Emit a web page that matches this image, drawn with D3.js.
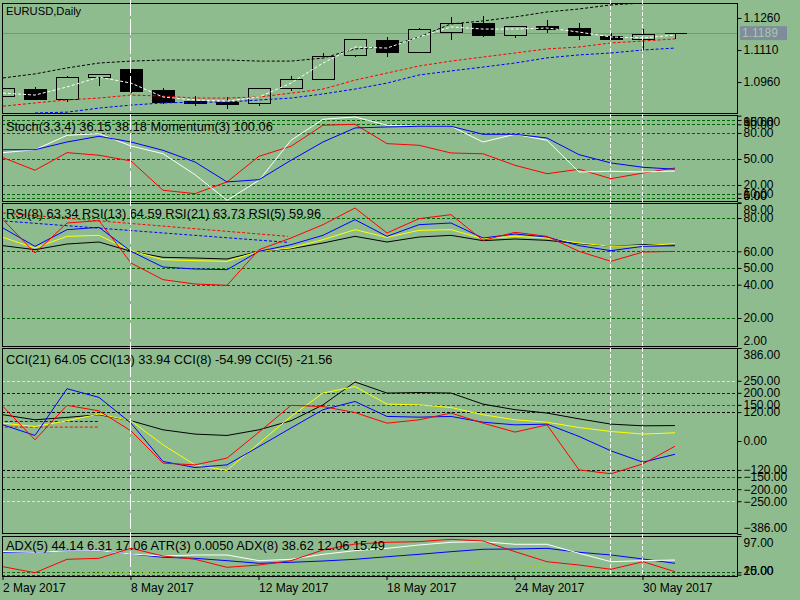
<!DOCTYPE html>
<html>
<head>
<meta charset="utf-8">
<script src="https://cdn.jsdelivr.net/npm/d3@7"></script>
<style>
  body { margin: 0; background: #8fbc8f; }
  svg { display: block; font-family: "Liberation Sans", Arial, sans-serif; font-size: 12px; }
</style>
</head>
<body>
<svg id="chart" width="800" height="600"></svg>
<script>
// EURUSD daily with four indicator sub-windows (MT4 style)

// ── Data ────────────────────────────────────────────────────────────────
var dates = ['2 May', '3 May', '4 May', '5 May', '8 May', '9 May', '10 May', '11 May', '12 May',
  '15 May', '16 May', '17 May', '18 May', '19 May', '22 May', '23 May', '24 May', '25 May',
  '26 May', '29 May', '30 May', '31 May'];

var open  = [1.0894, 1.0927, 1.0880, 1.0983, 1.1021, 1.0922, 1.0871, 1.0866, 1.0862, 1.0932, 1.0974,
  1.1087, 1.1157, 1.1101, 1.1194, 1.1237, 1.1180, 1.1222, 1.1213, 1.1176, 1.1162, 1.1189];
var high  = [1.0932, 1.0937, 1.0988, 1.0997, 1.1021, 1.0932, 1.0894, 1.0890, 1.0932, 1.0988, 1.1096,
  1.1162, 1.1171, 1.1213, 1.1265, 1.1269, 1.1222, 1.1251, 1.1237, 1.1190, 1.1208, 1.1189];
var low   = [1.0894, 1.0876, 1.0866, 1.0941, 1.0908, 1.0857, 1.0847, 1.0833, 1.0847, 1.0918, 1.0974,
  1.1077, 1.1077, 1.1096, 1.1157, 1.1171, 1.1166, 1.1190, 1.1157, 1.1162, 1.1110, 1.1162];
var close = [1.0932, 1.0880, 1.0983, 1.0997, 1.0918, 1.0866, 1.0862, 1.0857, 1.0932, 1.0974, 1.1082,
  1.1162, 1.1101, 1.1208, 1.1237, 1.1180, 1.1222, 1.1208, 1.1180, 1.1162, 1.1185, 1.1189];
var bid = 1.1189;

// moving averages on the price window
var maWhite = [1.0908, 1.0899, 1.0937, 1.0983, 1.0955, 1.0890, 1.0876, 1.0871, 1.0890, 1.0955, 1.1049,
  1.1124, 1.1119, 1.1171, 1.1218, 1.1208, 1.1208, 1.1213, 1.1194, 1.1171, 1.1166, 1.1180];
var maBlack = [1.0979, 1.0998, 1.1026, 1.1049, 1.1058, 1.1063, 1.1063, 1.1063, 1.1058, 1.1058, 1.1072,
  1.1115, 1.1124, 1.1171, 1.1232, 1.1246, 1.1265, 1.1288, 1.1302, 1.1321, 1.1330, null];
var maRed   = [1.0847, 1.0862, 1.0876, 1.0885, 1.0899, 1.0894, 1.0885, 1.0885, 1.0890, 1.0908, 1.0927,
  1.0969, 1.1002, 1.1035, 1.1058, 1.1077, 1.1096, 1.1115, 1.1124, 1.1143, 1.1152, 1.1162];
var maBlue  = [null, 1.0815, 1.0819, 1.0838, 1.0852, 1.0862, 1.0866, 1.0866, 1.0876, 1.0885, 1.0904,
  1.0927, 1.0955, 1.0993, 1.1012, 1.1030, 1.1049, 1.1073, 1.1087, 1.1096, 1.1110, 1.1119];

// Stochastic + Momentum
var stochMain   = [57.3, 60.7, 77.3, 79.2, 65, 56.1, 31.9, 2.3, 25.4, 71.6, 95.8, 98.5, 88.9, 87.7,
  87.7, 69.6, 78.5, 71.6, 35, 35.8, 35, 36.15];
var stochSignal = [60.7, 60.7, 69.6, 76.2, 69.6, 60.0, 46.5, 23.5, 26.1, 48.5, 69.6, 85.8, 86.9, 87.7,
  87.7, 78.5, 78.5, 74.2, 55, 45.4, 40.4, 38.18];
var momentum    = [51.5, 37, 57.3, 54.3, 47.7, 13.9, 10, 23.5, 53.1, 64.7, 88.9, 90, 67.7, 65.8,
  56.9, 56, 42.7, 33, 38.1, 27.3, 33.8, 39.6];

// RSI
var rsi5  = [79, 59, 77, 78.4, 53, 43, 40.4, 39.6, 61, 68, 76, 86, 71, 79.6, 82, 66.6, 71.4, 69, 60, 54, 59.6, 59.96];
var rsi8  = [74, 63, 73, 74.4, 60, 50.6, 49.4, 49, 60, 64, 69.6, 79, 69, 76, 77, 68, 70.4, 68.6, 63.4, 60.4, 63, 63.34];
var rsi13 = [68.4, 62, 69, 69.6, 60.4, 55, 54.4, 54, 60, 62, 67, 73, 68.4, 72.6, 73, 67.6, 69, 68, 65, 63, 63.4, 64.59];
var rsi21 = [63.4, 61, 64.4, 65.6, 60, 56.4, 56, 55.4, 60, 61.6, 65, 69, 65.6, 68.6, 69.6, 66.4, 67.4, 66.6, 64.6, 63, 64, 63.73];
// dotted trend lines in the RSI window: [bar index, value]
var rsiTrendRed  = [[0, 83], [8.9, 69]];
var rsiTrendBlue = [[-0.1, 78.4], [8.9, 65.4]];

// CCI
var cci21 = [109, 88, 98, 109, 84, 46.5, 28.6, 23, 46.5, 84, 150, 245, 199, 201, 199, 153, 130, 116, 92, 70, 63, 64.05];
var cci13 = [74, 60, 84, 112, 84, -16, -99, -122, -9, 102, 199, 226, 153, 150, 139, 109, 88, 78, 56, 39.5, 28.6, 33.94];
var cci8  = [67, 23, 217, 181, 74, -85, -110, -99, -23, 54, 130, 164, 102, 99, 102, 78, 67, 70, 19, -41, -88, -54.99];
var cci5  = [143, 5, 148, 125, 42, -92, -99, -71, 37, 148, 143, 118, 74, 88, 116, 74, 37, 67, -120, -136, -95, -21.56];
var cciMarkBlue = [[-0.1, 81], [3, 81]];
var cciMarkRed  = [[-0.1, 57.7], [3, 57.7]];

// ADX + ATR
var adxRed   = [31.8, 19, 47.5, 49.6, 71, 54.5, 47.5, 30.5, 35.4, 44.6, 67.3, 80, 83.6, 85, 90, 86.4, 63.7, 42.4, 35.4, 26.3, 42.4, 21.2];
var adxWhite = [64, 62.4, 65.2, 65.9, 58.8, 54.5, 56.7, 56.7, 44.6, 47.5, 58.1, 65.9, 70.8, 77.9, 83.6, 85, 79.4, 79.4, 60.3, 42.4, 44.6, 46];
var adxBlue  = [62.4, 62.4, 65.2, 65.9, 58.8, 51.8, 49.6, 44.6, 39, 41.2, 43.9, 47.5, 53, 58.1, 63.7, 68.8, 69.4, 70.8, 62.4, 56.7, 48.2, 39];
var atr      = [18, 17.5, 18, 19, 20, 19, 18.5, 18, 19.5, 30.5, 39, 49.6, 54.5, 42.4, 43.9, 40.3, 33.3, 31.8, 26.3, 20, null, null];

// axis ticks / levels
var priceTicks = [1.1260, 1.1110, 1.0960];
var stochTicks = [100, 95, 90, 80, 50, 20, 10, 5, 0];
var stochLevels = [95, 90, 80, 50, 20, 10, 5];
var rsiTicks = [89, 80, 60, 50, 40, 20, 2];
var rsiLevels = [80, 60, 50, 40, 20];
var cciTicks = [386, 250, 200, 150, 120, 0, -120, -150, -200, -250, -386];
var cciLevels = [250, 200, 150, 120, -120, -150, -200, -250];
var cciLevelColors = ['#ffff00', '#0000ff', '#ff0000', '#000000', '#000000', '#ff0000', '#0000ff', '#ffff00'];
var adxTicks = [97, 20, 15];
var adxLevels = [20, 15];
var dateTicks = [0, 4, 8, 12, 16, 20];
var markerBars = [4, 19, 20];

// ── Layout ──────────────────────────────────────────────────────────────
var BG = '#8fbc8f';
var xLeft = 2, xRight = 737;
var svg = d3.select('#chart');
svg.append('rect').attr('width', 800).attr('height', 600).attr('fill', BG);

var x = d3.scaleLinear().domain([0, dates.length - 1]).range([3, 675]);

function makePanel(name, top, bottom, domain, range) {
  var g = svg.append('g').attr('class', 'panel ' + name);
  svg.append('clipPath').attr('id', 'clip-' + name).append('rect')
    .attr('x', xLeft + 1).attr('y', top + 1)
    .attr('width', xRight - xLeft - 1).attr('height', bottom - top - 1);
  var inner = g.append('g').attr('clip-path', 'url(#clip-' + name + ')');
  return { name: name, g: g, inner: inner, top: top, bottom: bottom,
           y: d3.scaleLinear().domain(domain).range(range) };
}

function finishPanel(p) {
  p.g.append('rect')
    .attr('x', xLeft + 0.5).attr('y', p.top + 0.5)
    .attr('width', xRight - xLeft).attr('height', p.bottom - p.top)
    .attr('fill', 'none').attr('stroke', '#000');
}

function rightAxis(p, values, fmt) {
  var ax = p.g.append('g')
    .attr('transform', 'translate(' + (xRight + 0.5) + ',0)')
    .call(d3.axisRight(p.y).tickValues(values).tickFormat(fmt).tickSize(4).tickPadding(2))
    .attr('font-family', null).attr('font-size', 12);
  ax.select('.domain').remove();
  ax.selectAll('line').attr('stroke', '#000');
  ax.selectAll('text').attr('fill', '#000')
    .attr('transform', function(d) {
      var yy = p.y(d);
      var cy = Math.max(p.top + 7, Math.min(p.bottom - 5, yy));
      return 'translate(0,' + (cy - yy) + ')';
    });
}

function levelLines(p, values, colors) {
  p.inner.selectAll('line.level').data(values).join('line')
    .attr('class', 'level')
    .attr('x1', xLeft).attr('x2', xRight)
    .attr('y1', d => Math.round(p.y(d)) + 0.5).attr('y2', d => Math.round(p.y(d)) + 0.5)
    .attr('stroke', (d, i) => colors ? colors[i] : '#006400')
    .attr('stroke-dasharray', '3,2');
}

function series(p, values, color, dash) {
  var line = d3.line()
    .defined(d => d != null)
    .x((d, i) => x(i))
    .y(d => p.y(d));
  p.inner.append('path').datum(values)
    .attr('d', line)
    .attr('fill', 'none').attr('stroke', color).attr('stroke-width', 1)
    .attr('stroke-dasharray', dash || null);
}

function segment(p, pts, color) {
  p.inner.append('path').datum(pts)
    .attr('d', d3.line().x(d => x(d[0])).y(d => p.y(d[1])))
    .attr('fill', 'none').attr('stroke', color).attr('stroke-dasharray', '3,2');
}

function title(p, txt, baseline, size) {
  p.g.append('text').attr('x', 6).attr('y', baseline)
    .attr('font-size', size || 12.8).attr('fill', '#000').text(txt);
}

// ── Price window ───────────────────────────────────────────────────────
var price = makePanel('price', 3, 113, [1.0815, 1.1330], [113, 3]);

// bid line
price.inner.append('line')
  .attr('x1', xLeft).attr('x2', xRight)
  .attr('y1', Math.round(price.y(bid)) + 0.5).attr('y2', Math.round(price.y(bid)) + 0.5)
  .attr('stroke', '#7f8c9c');

var bars = price.inner.selectAll('g.bar').data(d3.range(dates.length)).join('g').attr('class', 'bar')
  .attr('shape-rendering', 'crispEdges');
bars.append('line')
  .attr('x1', i => Math.round(x(i)) + 0.5).attr('x2', i => Math.round(x(i)) + 0.5)
  .attr('y1', i => price.y(high[i])).attr('y2', i => price.y(low[i]))
  .attr('stroke', '#000');
bars.append('path')
  .attr('d', function(i) {
    var x0 = Math.round(x(i)) - 11 + 0.5, x1 = x0 + 22;
    var y0 = Math.round(price.y(Math.max(open[i], close[i]))) + 0.5;
    var y1 = Math.round(price.y(Math.min(open[i], close[i]))) + 0.5;
    return 'M' + x0 + ',' + y0 + 'H' + x1 + 'V' + y1 + 'H' + x0 + 'Z';
  })
  .attr('fill', i => close[i] < open[i] ? '#000' : BG)
  .attr('stroke', '#000');

series(price, maBlack, '#000', '3,2');
series(price, maRed, '#ff0000', '3,2');
series(price, maBlue, '#0000ff', '3,2');
series(price, maWhite, '#ffffff', '3,2');

title(price, 'EURUSD,Daily', 15, 11.2);
finishPanel(price);
rightAxis(price, priceTicks, d3.format('.4f'));

// bid label
var bidY = price.y(bid);
svg.append('rect').attr('x', 740).attr('y', bidY - 7).attr('width', 47).attr('height', 14).attr('fill', '#7f8c9c');
svg.append('text').attr('x', 742).attr('y', bidY).attr('dy', '0.35em')
  .attr('font-size', 12).attr('fill', '#a9c7a9').text(d3.format('.4f')(bid));

// ── Stochastic window ───────────────────────────────────────────────────
var stoch = makePanel('stoch', 115, 201, [1.5, 100.4], [201, 115.3]);
levelLines(stoch, stochLevels);
series(stoch, momentum, '#ff0000');
series(stoch, stochMain, '#ffffff');
series(stoch, stochSignal, '#0000ff');
title(stoch, 'Stoch(3,3,4) 36.15 38.18 Momentum(3) 100.06', 131);
finishPanel(stoch);
rightAxis(stoch, stochTicks, d3.format('.2f'));

// ── RSI window ──────────────────────────────────────────────────────────
var rsi = makePanel('rsi', 203, 346, [2, 89], [348, 203]);
levelLines(rsi, rsiLevels);
segment(rsi, rsiTrendRed, '#ff0000');
segment(rsi, rsiTrendBlue, '#0000ff');
series(rsi, rsi21, '#000000');
series(rsi, rsi13, '#ffff00');
series(rsi, rsi8, '#0000ff');
series(rsi, rsi5, '#ff0000');
title(rsi, 'RSI(8) 63.34 RSI(13) 64.59 RSI(21) 63.73 RSI(5) 59.96', 218);
finishPanel(rsi);
rightAxis(rsi, rsiTicks, d3.format('.2f'));

// ── CCI window ──────────────────────────────────────────────────────────
var cci = makePanel('cci', 348, 533, [-386, 386], [534, 348]);
levelLines(cci, cciLevels, cciLevelColors);
segment(cci, cciMarkBlue, '#0000ff');
segment(cci, cciMarkRed, '#ff0000');
series(cci, cci21, '#000000');
series(cci, cci13, '#ffff00');
series(cci, cci8, '#0000ff');
series(cci, cci5, '#ff0000');
title(cci, 'CCI(21) 64.05 CCI(13) 33.94 CCI(8) -54.99 CCI(5) -21.56', 364);
finishPanel(cci);
rightAxis(cci, cciTicks, d3.format('.2f'));

// ── ADX window ──────────────────────────────────────────────────────────
var adx = makePanel('adx', 536, 576, [12.7, 97], [575.7, 536]);
levelLines(adx, adxLevels);
series(adx, atr, '#9acd32', '2,2');
series(adx, adxBlue, '#0000ff');
series(adx, adxWhite, '#ffffff');
series(adx, adxRed, '#ff0000');
title(adx, 'ADX(5) 44.14 6.31 17.06 ATR(3) 0.0050 ADX(8) 38.62 12.06 15.49', 550);
finishPanel(adx);
rightAxis(adx, adxTicks, d3.format('.2f'));

// ── Vertical marker lines ───────────────────────────────────────────────
svg.append('g').selectAll('line').data(markerBars).join('line')
  .attr('x1', i => Math.round(x(i)) - 0.5).attr('x2', i => Math.round(x(i)) - 0.5)
  .attr('y1', 0).attr('y2', 575)
  .attr('stroke', '#ffffff')
  .attr('stroke-dasharray', (d, k) => k === 0 ? '16,3' : '4,2');

// ── Date axis ───────────────────────────────────────────────────────────
var xAxis = svg.append('g')
  .attr('transform', 'translate(-0.5,576)')
  .call(d3.axisBottom(x).tickValues(dateTicks).tickSize(4).tickFormat(i => dates[i] + ' 2017'))
  .attr('font-family', null).attr('font-size', 12);
xAxis.select('.domain').remove();
xAxis.selectAll('line').attr('stroke', '#000');
xAxis.selectAll('text').attr('fill', '#000')
  .attr('text-anchor', 'start').attr('x', 0).attr('y', 16).attr('dy', 0);
</script>
</body>
</html>
